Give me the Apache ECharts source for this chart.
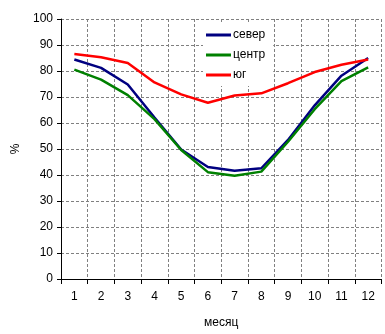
<!DOCTYPE html>
<html>
<head>
<meta charset="utf-8">
<script src="https://cdn.jsdelivr.net/npm/echarts@6/dist/echarts.min.js"></script>
<style>
  html, body { margin: 0; padding: 0; background: #fff; }
  #chart { width: 385px; height: 334px; }
</style>
</head>
<body>
<div id="chart"></div>
<script>
// Monthly values, %
const months = ['1', '2', '3', '4', '5', '6', '7', '8', '9', '10', '11', '12'];
const north  = [84.4, 81.2, 74.8, 62.1, 49.8, 43.1, 41.6, 42.6, 53.5, 66.8, 78.2, 85.0];
const centre = [80.5, 76.7, 70.7, 61.5, 49.6, 41.1, 39.7, 41.3, 52.8, 65.3, 76.1, 81.4];
const south  = [86.5, 85.3, 83.1, 75.6, 71.0, 67.8, 70.6, 71.4, 75.3, 79.6, 82.4, 84.4];
const seriesNames = ['север', 'центр', 'юг'];
const seriesColors = ['#000080', '#008000', '#ff0000'];

const font = 'Liberation Sans, Arial, sans-serif';
const chart = echarts.init(document.getElementById('chart'));

const dashed = { show: true, lineStyle: { color: '#808080', type: [3, 2], width: 1 } };

chart.setOption({
  animation: false,
  grid: { left: 61, right: 3.5, top: 19, bottom: 53 },
  legend: {
    left: 203, top: 24, orient: 'vertical', itemGap: 8,
    padding: [5, 8, 5, 3], backgroundColor: '#fff',
    itemWidth: 25, itemHeight: 12,
    icon: 'path://M0,5 L25,5 L25,8 L0,8 Z',
    textStyle: { fontFamily: font, fontSize: 12, color: '#000', padding: [0, 0, 0, -3] },
    data: seriesNames
  },
  xAxis: {
    type: 'category', data: months, boundaryGap: true,
    name: 'месяц', nameLocation: 'middle', nameGap: 38,
    nameTextStyle: { fontFamily: font, fontSize: 12, color: '#000' },
    axisLine: { lineStyle: { color: '#000', width: 1 } },
    axisTick: { show: true, length: 5, lineStyle: { color: '#000' } },
    axisLabel: { fontFamily: font, fontSize: 12, color: '#000', margin: 12 },
    splitLine: dashed
  },
  yAxis: {
    type: 'value', min: 0, max: 100, interval: 10,
    name: '%', nameLocation: 'middle', nameGap: 35, nameRotate: 90,
    nameTextStyle: { fontFamily: font, fontSize: 12, color: '#000' },
    axisLine: { show: true, lineStyle: { color: '#000', width: 1 } },
    axisTick: { show: true, length: 4, lineStyle: { color: '#000' } },
    axisLabel: { fontFamily: font, fontSize: 12, color: '#000', margin: 8 },
    splitLine: dashed
  },
  series: [north, centre, south].map((d, i) => ({
    name: seriesNames[i], type: 'line', data: d,
    showSymbol: false, symbol: 'none',
    lineStyle: { color: seriesColors[i], width: 2.5 },
    itemStyle: { color: seriesColors[i] }
  }))
});
</script>
</body>
</html>
